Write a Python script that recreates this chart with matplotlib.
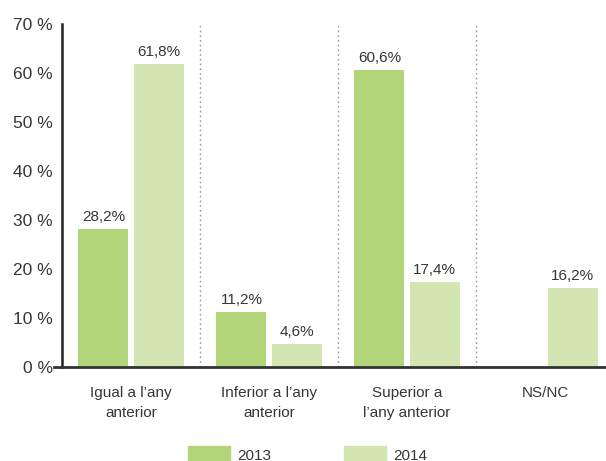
import matplotlib
matplotlib.use('Agg')
import matplotlib.pyplot as plt
import numpy as np
from matplotlib.patches import Rectangle

categories = ["Igual a l\u2019any\nanterior", "Inferior a l\u2019any\nanterior",
              "Superior a\nl\u2019any anterior", "NS/NC"]
series_names = ["2013", "2014"]
values_2013 = [28.2, 11.2, 60.6, np.nan]
values_2014 = [61.8, 4.6, 17.4, 16.2]
yticks = [0, 10, 20, 30, 40, 50, 60, 70]

c2013 = '#b2d57a'
c2014 = '#d2e5b3'
txt = '#363636'

plt.rcParams['font.family'] = ['Liberation Sans', 'DejaVu Sans']

W, H = 606, 461
fig = plt.figure(figsize=(W / 100, H / 100), dpi=100)
ax = fig.add_axes([62 / W, 94 / H, 544 / W, 343 / H])

x = np.arange(len(categories))
bw = 0.362
b1 = ax.bar(x - 0.2, values_2013, width=bw, color=c2013, zorder=2)
b2 = ax.bar(x + 0.2, values_2014, width=bw, color=c2014, zorder=2)

for bars, vals in ((b1, values_2013), (b2, values_2014)):
    for rect, v in zip(bars, vals):
        if np.isnan(v):
            continue
        ax.annotate(f"{v:.1f}".replace('.', ',') + '%',
                    (rect.get_x() + rect.get_width() / 2, v),
                    xytext=(0, 5.8), textcoords='offset points',
                    ha='center', va='baseline', fontsize=11, color=txt)

ax.set_xlim(-0.5, -0.5 + 544 / 138)
ax.set_ylim(0, 70)

for d in x[:-1] + 0.5:
    ax.axvline(d, color='#9a9a9a', lw=1, linestyle=(0, (1.2, 2.2)), zorder=1)

for s in ('top', 'right', 'bottom'):
    ax.spines[s].set_visible(False)
ax.spines['left'].set_linewidth(1.8)
ax.spines['left'].set_color('#222222')
ax.axhline(0, xmin=-8 / 544, xmax=1, color='#333333', lw=2, clip_on=False, zorder=3)

ax.set_yticks(yticks)
ax.set_yticklabels([f"{t} %" for t in yticks], fontsize=12.5, color=txt)
ax.tick_params(axis='y', length=0, pad=6.5)
ax.set_xticks(x)
ax.set_xticklabels(categories, fontsize=11, color=txt, linespacing=1.5)
ax.tick_params(axis='x', length=0, pad=14)

# legend
for px, col, name in ((188, c2013, series_names[0]), (344, c2014, series_names[1])):
    fig.add_artist(Rectangle((px / W, (H - 470) / H), 42 / W, 24 / H,
                             transform=fig.transFigure, color=col))
    fig.text((px + 49) / W, (H - 455.5) / H, name, fontsize=11, color=txt,
             ha='left', va='center')

fig.savefig('out.png', dpi=100)
